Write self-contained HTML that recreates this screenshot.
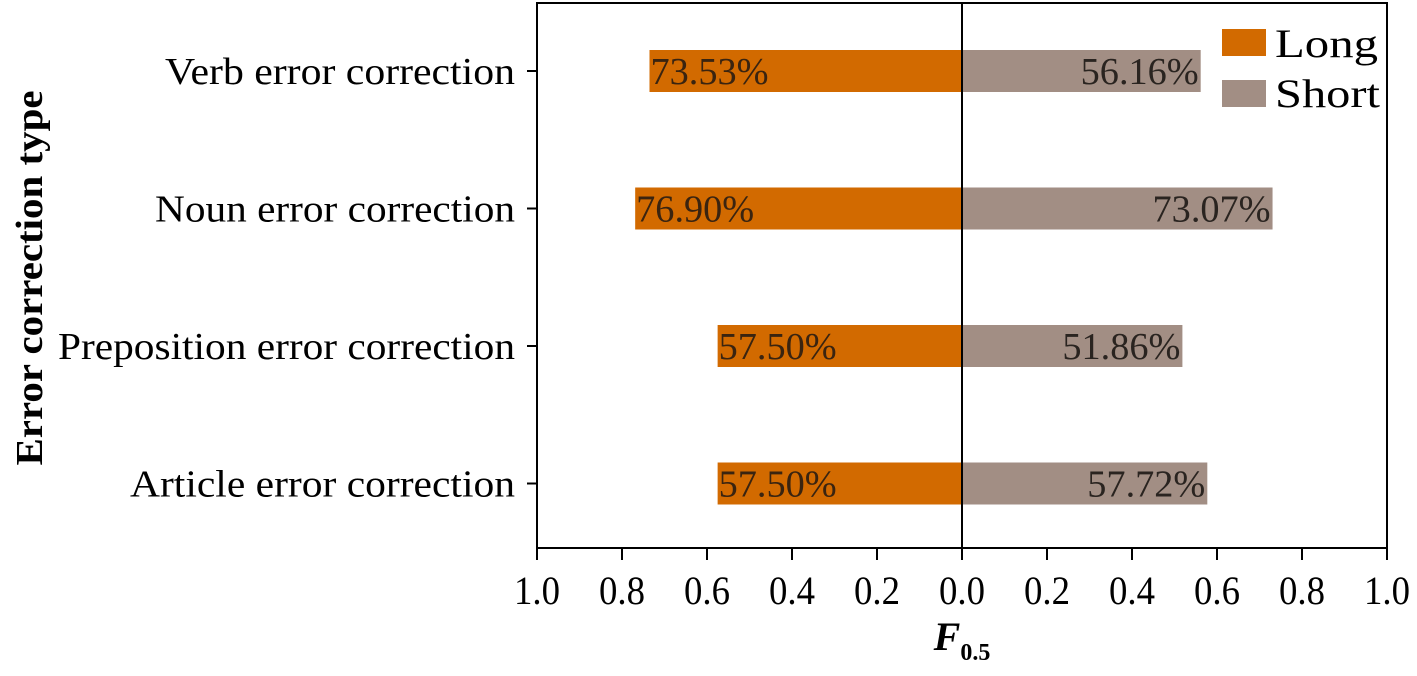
<!DOCTYPE html>
<html><head><meta charset="utf-8"><style>
body{margin:0;background:#fff}
svg{display:block;font-family:"Liberation Serif",serif}
</style></head><body>
<svg id="chart" width="1417" height="676">
<text x="42" y="278" transform="rotate(-90 42 278)" font-size="38" font-weight="bold" text-anchor="middle" textLength="375" lengthAdjust="spacingAndGlyphs">Error correction type</text>
<text x="962" y="650" font-size="40" font-weight="bold" font-style="italic" text-anchor="middle">F<tspan font-size="24" font-style="normal" dy="10">0.5</tspan></text>
<g id="plot"></g>
<g>
<rect x="1222" y="29" width="44" height="27" fill="#d26a00"/>
<text x="1275" y="57" font-size="40" textLength="103" lengthAdjust="spacingAndGlyphs">Long</text>
<rect x="1222" y="80" width="44" height="27" fill="#a28e84"/>
<text x="1275" y="107" font-size="40" textLength="105" lengthAdjust="spacingAndGlyphs">Short</text>
</g>
</svg>
<script>
const categories=["Verb error correction","Noun error correction","Preposition error correction","Article error correction"];
const longVals=[73.53,76.90,57.50,57.50];
const shortVals=[56.16,73.07,51.86,57.72];
const tickVals=[1.0,0.8,0.6,0.4,0.2,0.0,0.2,0.4,0.6,0.8,1.0];
const labelStarts=[165,155,58,130];
const NS="http://www.w3.org/2000/svg";
const g=document.getElementById('plot');
const L=537,R=1387,C=962,T=3,B=548;
const ux=(R-C);
const xL=v=>C-v*ux, xR=v=>C+v*ux;
const yc=i=>71+i*137.5;
function mk(t,a){const e=document.createElementNS(NS,t);for(const k in a)e.setAttribute(k,a[k]);g.appendChild(e);return e;}
categories.forEach((c,i)=>{
 const y=yc(i);
 let r=mk('rect',{x:xL(longVals[i]/100),y:y-21,width:C-xL(longVals[i]/100),height:42,fill:'#d26a00'});
 
 
 r=mk('rect',{x:C,y:y-21,width:xR(shortVals[i]/100)-C,height:42,fill:'#a28e84'});
 
 
 let t=mk('text',{x:xL(longVals[i]/100)+1,y:y+13,'font-size':38,fill:'#3a2410',textLength:118,lengthAdjust:'spacingAndGlyphs'});
 t.textContent=longVals[i].toFixed(2)+'%';
 
 
 t=mk('text',{x:xR(shortVals[i]/100)-120,y:y+13,'font-size':38,fill:'#2a2420',textLength:118,lengthAdjust:'spacingAndGlyphs'});
 t.textContent=shortVals[i].toFixed(2)+'%';
 
 
 const x0=labelStarts[i], w=L-22-x0;
 t=mk('text',{x:x0,y:y+13,'font-size':38,textLength:w,lengthAdjust:'spacingAndGlyphs'});
 t.textContent=c;
 
 
 const tk=mk('line',{x1:L-10,x2:L,y1:y,y2:y,stroke:'#000','stroke-width':2});
 
 
});
const fr=mk('rect',{x:L,y:T,width:R-L,height:B-T,fill:'none',stroke:'#000','stroke-width':2});


const cl=mk('line',{x1:C,x2:C,y1:T,y2:B,stroke:'#000','stroke-width':2});


tickVals.forEach((v,i)=>{
 const x=i<5?xL(v):xR(v);
 const l=mk('line',{x1:x,x2:x,y1:B,y2:B+12,stroke:'#000','stroke-width':2});
 
 
 const t=mk('text',{x:x-23,y:B+56,'font-size':40,textLength:46,lengthAdjust:'spacingAndGlyphs'});
 t.textContent=v.toFixed(1);
 
 
});
</script>
</body></html>
